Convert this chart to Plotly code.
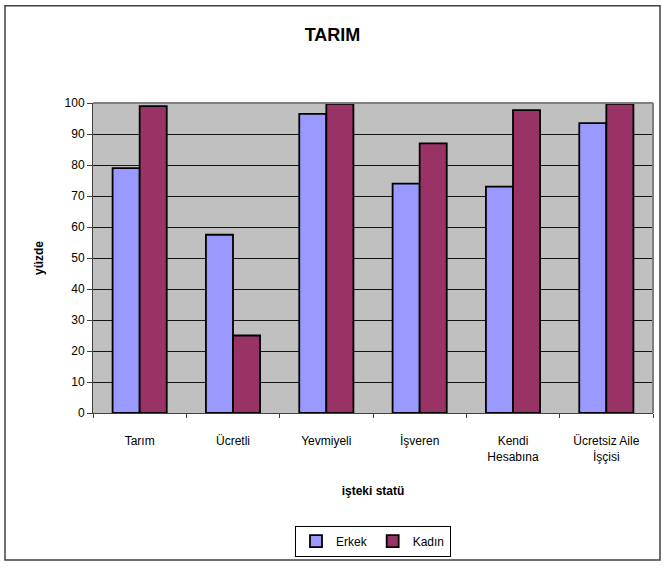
import plotly.graph_objects as go

categories = ["Tarım", "Ücretli", "Yevmiyeli", "İşveren", "Kendi<br>Hesabına", "Ücretsiz Aile<br>İşçisi"]
erkek = [79, 57.5, 96.5, 74, 73, 93.5]
kadin = [99, 25, 99.7, 87, 97.7, 99.7]
y_ticks = [0, 10, 20, 30, 40, 50, 60, 70, 80, 90, 100]

W, H = 665, 568
L, R, T, B = 93, 12, 103, 153
pw, ph = W - L - R, H - T - B

def px(x):
    return (x - L) / pw

def py(y):
    return (H - B - y) / ph

fig = go.Figure()
fig.add_trace(go.Bar(name="Erkek", x=categories, y=erkek,
                     marker=dict(color="#9999FF", line=dict(color="black", width=1.8))))
fig.add_trace(go.Bar(name="Kadın", x=categories, y=kadin,
                     marker=dict(color="#993366", line=dict(color="black", width=1.8))))

font_family = "Liberation Sans, Arial, sans-serif"

fig.update_layout(
    width=W, height=H,
    margin=dict(l=L, r=R, t=T, b=B),
    paper_bgcolor="white",
    plot_bgcolor="#C0C0C0",
    barmode="group",
    bargap=0.42,
    bargroupgap=0,
    font=dict(family=font_family, size=12, color="black"),
    title=dict(text="<b>TARIM</b>", x=0.5, xanchor="center", y=1 - 35 / H, yanchor="middle",
               font=dict(size=18, family=font_family)),
    legend=dict(orientation="h", x=px(373), xanchor="center", y=py(544), yanchor="middle",
                bordercolor="black", borderwidth=1, bgcolor="white",
                font=dict(size=12), itemwidth=30, tracegroupgap=0),
    showlegend=True,
)

fig.update_xaxes(
    tickson="boundaries", ticks="outside", ticklen=4, tickcolor="#404040",
    showline=True, linecolor="#404040", linewidth=1, mirror=False,
    showgrid=False, tickfont=dict(size=12), ticklabelstandoff=17,
    title=dict(text="<b>işteki statü</b>", font=dict(size=12), standoff=23),
)
fig.update_yaxes(
    range=[0, 100], tickvals=y_ticks, ticks="outside", ticklen=5, tickcolor="#404040",
    showline=True, linecolor="#404040", linewidth=1,
    showgrid=True, gridcolor="#151515", gridwidth=1, zeroline=False,
    tickfont=dict(size=12),
    title=dict(text="<b>yüzde</b>", font=dict(size=12), standoff=18),
)

# plot-area frame (top and right, gray)
fig.add_shape(type="line", xref="paper", yref="paper", x0=0, x1=1, y0=1, y1=1,
              line=dict(color="#808080", width=2))
fig.add_shape(type="line", xref="paper", yref="paper", x0=1, x1=1, y0=0, y1=1,
              line=dict(color="#808080", width=2))
# outer chart border
fig.add_shape(type="rect", xref="paper", yref="paper",
              x0=px(5), x1=px(660), y0=py(563), y1=py(5),
              line=dict(color="#404040", width=1.5))

fig.write_html("out.html", config={"displayModeBar": False},
               post_script="document.body.style.margin='0';")
